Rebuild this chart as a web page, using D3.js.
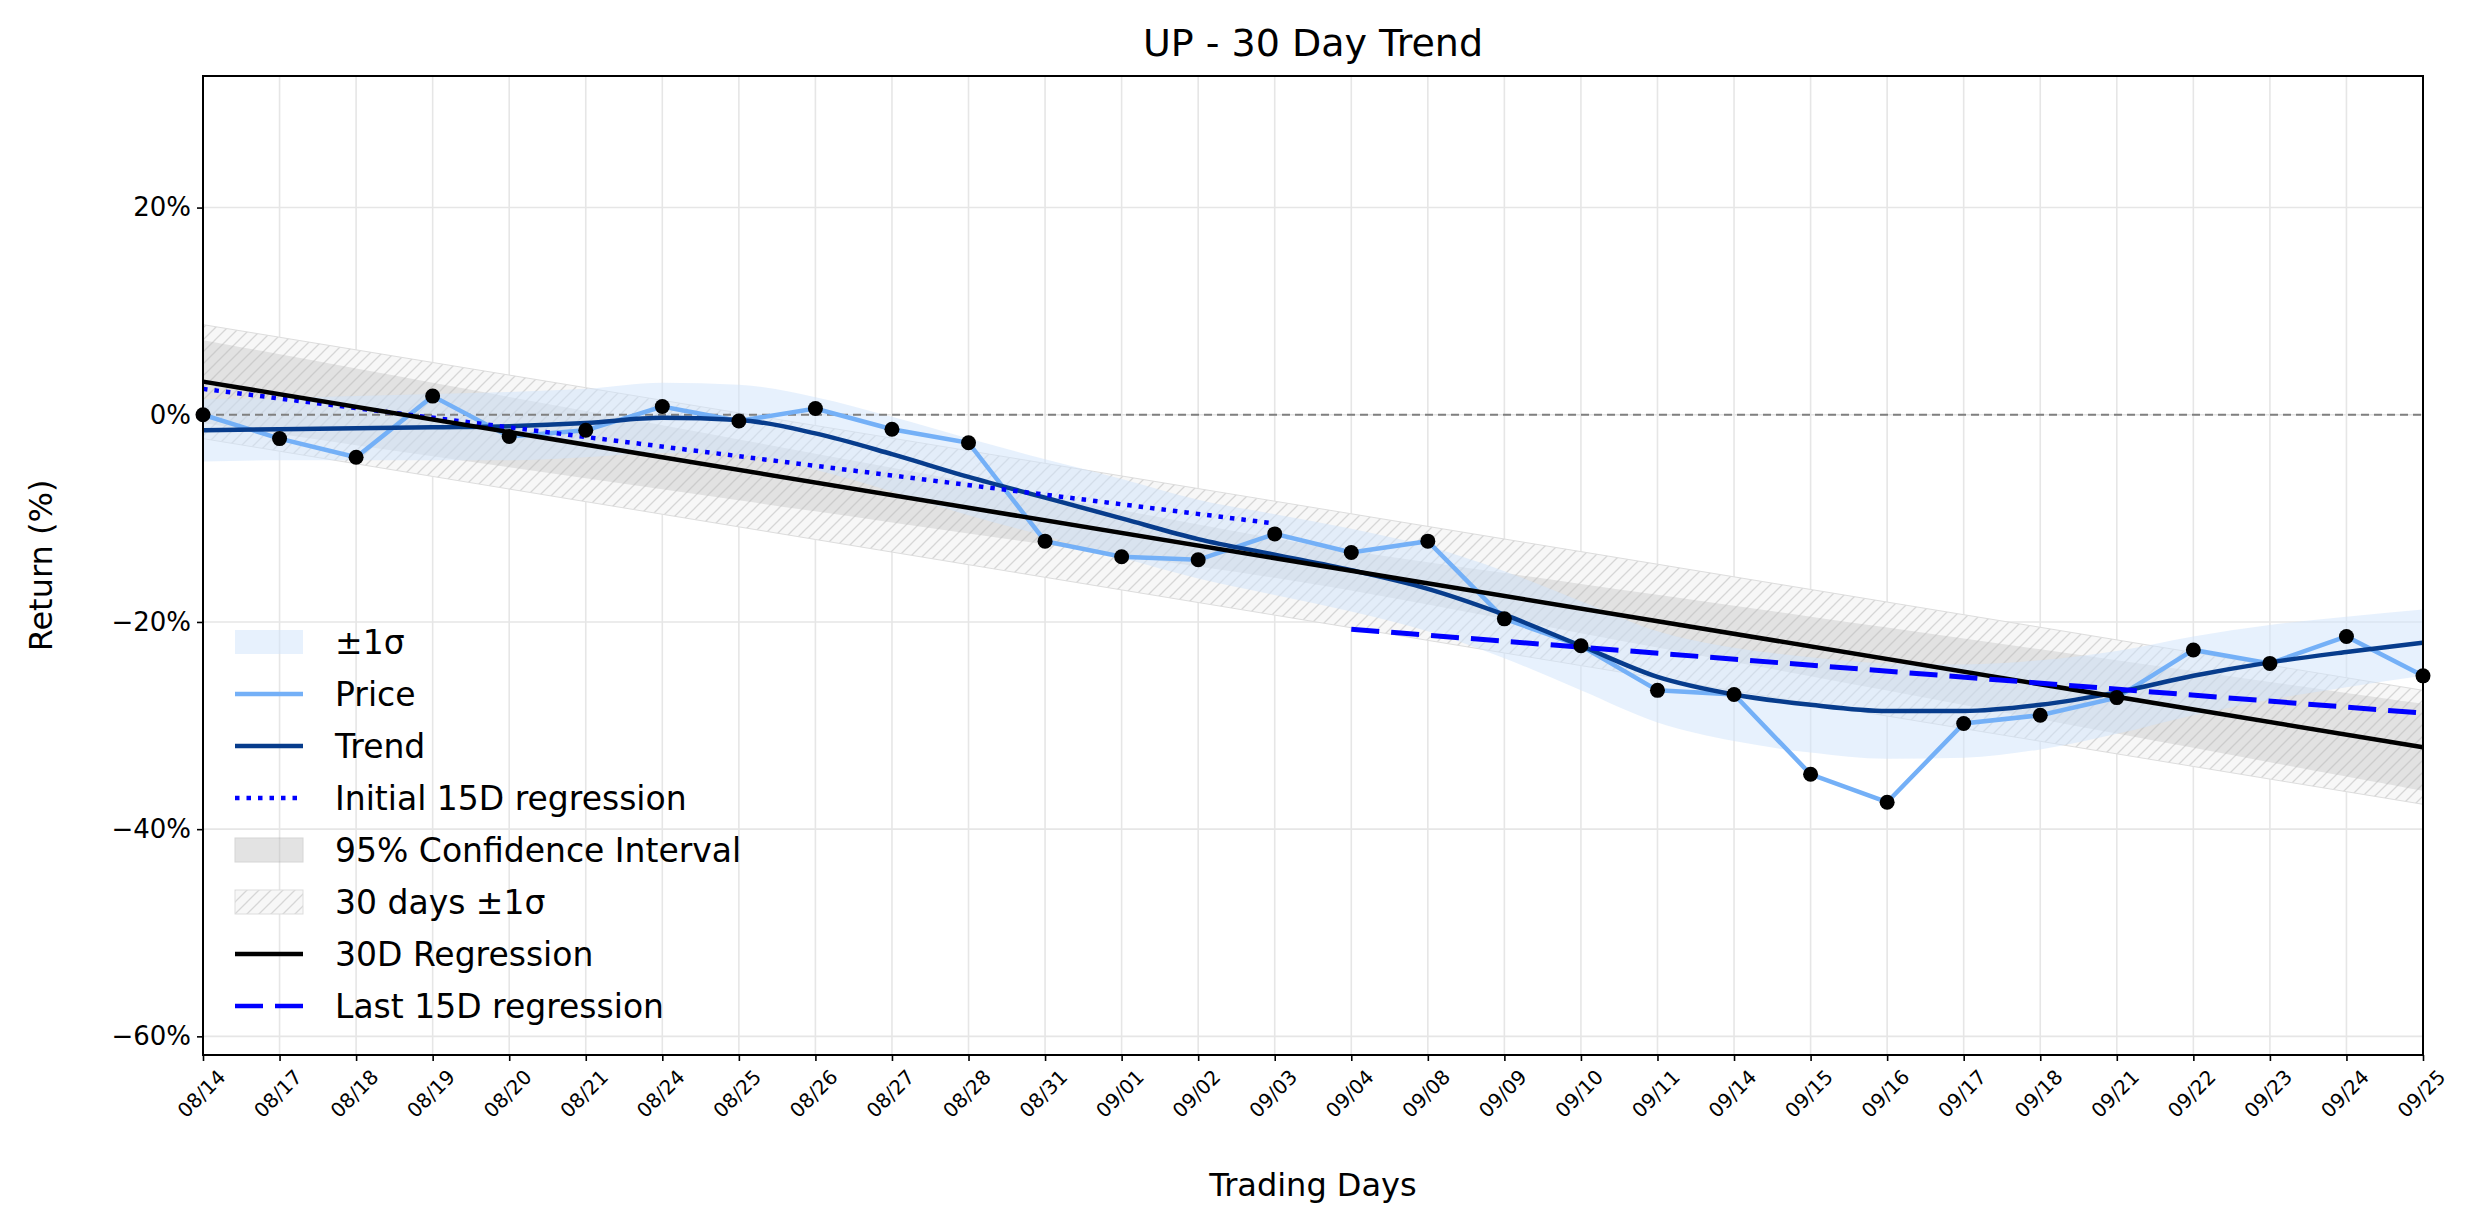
<!DOCTYPE html>
<html>
<head>
<meta charset="utf-8">
<script src="https://cdn.jsdelivr.net/npm/d3@7"></script>
<style>
  body { margin: 0; background: #fff; }
  text { font-family: "DejaVu Sans", sans-serif; }
</style>
</head>
<body>
<div id="chart"></div>
<script>
var days = ["08/14","08/17","08/18","08/19","08/20","08/21","08/24","08/25","08/26","08/27",
    "08/28","08/31","09/01","09/02","09/03","09/04","09/08","09/09","09/10","09/11",
    "09/14","09/15","09/16","09/17","09/18","09/21","09/22","09/23","09/24","09/25"];
var price = [0, -2.3, -4.1, 1.8, -2.1, -1.5, 0.8, -0.6, 0.6, -1.4,
    -2.7, -12.2, -13.7, -14.0, -11.5, -13.3, -12.2, -19.7, -22.3, -26.6,
    -27.0, -34.7, -37.4, -29.8, -29.0, -27.3, -22.7, -24.0, -21.4, -25.2];
var trend = [-1.5, -1.4, -1.3, -1.2, -1.1, -0.8, -0.3, -0.5, -1.8, -3.8,
    -6.0, -8.0, -10.0, -12.0, -13.5, -15.0, -16.8, -19.3, -22.3, -25.3,
    -27.0, -28.0, -28.6, -28.6, -28.0, -26.8, -25.2, -23.9, -22.9, -22.0];
var sigma = [3.0, 3.0, 3.1, 3.2, 3.3, 3.3, 3.4, 3.4, 3.5, 3.6,
    3.7, 3.7, 3.8, 3.8, 3.9, 4.0, 4.1, 4.2, 4.3, 4.4,
    4.5, 4.6, 4.6, 4.5, 4.3, 4.0, 3.8, 3.6, 3.4, 3.2];
var reg30 = [3.2, -32.1];          // 30D regression at first / last day
var ciHalf = [4.0, 1.8, 4.2];      // CI half width at start / middle / end
var band30 = 5.5;                  // 30 days ±1σ half width
var reg15first = [2.5, -10.5];     // 08/14 .. 09/03
var reg15last = [-20.7, -28.8];    // 09/04 .. 09/25
var yTicks = [20, 0, -20, -40, -60];

var W = 2474, H = 1224;
var margin = {top: 76, right: 51, bottom: 169, left: 203};
var w = W - margin.left - margin.right, h = H - margin.top - margin.bottom;

var root = d3.select("#chart").append("svg").attr("width", W).attr("height", H);
var defs = root.append("defs");
var pat = defs.append("pattern").attr("id", "hatch").attr("patternUnits", "userSpaceOnUse")
    .attr("width", 12).attr("height", 12);
pat.append("rect").attr("width", 12).attr("height", 12).attr("fill", "#f7f7f7");
pat.append("path").attr("d", "M-3,15 L15,-3 M-3,3 L3,-3 M9,15 L15,9")
    .attr("stroke", "#d6d6d6").attr("stroke-width", 1.3);

var svg = root.append("g").attr("transform", `translate(${margin.left},${margin.top})`);

var x = d3.scalePoint().domain(days).range([0, w]);
var y = d3.scaleLinear().domain([-61.8, 32.7]).range([h, 0]);
var n = days.length;

// grid
svg.append("g").selectAll("line").data(days).enter().append("line")
    .attr("x1", d => x(d)).attr("x2", d => x(d)).attr("y1", 0).attr("y2", h)
    .attr("stroke", "#e6e6e6").attr("stroke-width", 1.6);
svg.append("g").selectAll("line").data(yTicks).enter().append("line")
    .attr("x1", 0).attr("x2", w).attr("y1", d => y(d)).attr("y2", d => y(d))
    .attr("stroke", "#e6e6e6").attr("stroke-width", 1.6);

var regAt = i => reg30[0] + (reg30[1] - reg30[0]) * i / (n - 1);
var ciAt = i => {
    var t = i / (n - 1);
    return t < 0.5 ? ciHalf[0] + (ciHalf[1] - ciHalf[0]) * t * 2 : ciHalf[1] + (ciHalf[2] - ciHalf[1]) * (t - 0.5) * 2;
};
var idx = d3.range(n);

// 30 days ±1σ hatched band
svg.append("path").datum(idx)
    .attr("d", d3.area().x(i => x(days[i])).y0(i => y(regAt(i) - band30)).y1(i => y(regAt(i) + band30)))
    .attr("fill", "url(#hatch)").attr("stroke", "#ddd").attr("stroke-width", 1);
// CI
svg.append("path").datum(idx)
    .attr("d", d3.area().curve(d3.curveBasis).x(i => x(days[i])).y0(i => y(regAt(i) - ciAt(i))).y1(i => y(regAt(i) + ciAt(i))))
    .attr("fill", "#bbbbbb").attr("opacity", 0.35);
// ±1σ around trend
svg.append("path").datum(idx)
    .attr("d", d3.area().curve(d3.curveMonotoneX).x(i => x(days[i])).y0(i => y(trend[i] - sigma[i])).y1(i => y(trend[i] + sigma[i])))
    .attr("fill", "#cfe4fb").attr("opacity", 0.5);

// zero line
svg.append("line").attr("x1", 0).attr("x2", w).attr("y1", y(0)).attr("y2", y(0))
    .attr("stroke", "#808080").attr("stroke-width", 2).attr("stroke-dasharray", "8,5");

var line = d3.line().x(d => x(d[0])).y(d => y(d[1]));
svg.append("path").datum(days.map((d, i) => [d, price[i]])).attr("d", line)
    .attr("fill", "none").attr("stroke", "#74b0f7").attr("stroke-width", 4.5);
svg.append("path").datum(days.map((d, i) => [d, trend[i]])).attr("d", d3.line().curve(d3.curveMonotoneX).x(d => x(d[0])).y(d => y(d[1])))
    .attr("fill", "none").attr("stroke", "#073c8c").attr("stroke-width", 4.5);
svg.append("path").datum([[days[0], reg15first[0]], [days[14], reg15first[1]]]).attr("d", line)
    .attr("fill", "none").attr("stroke", "#0000ff").attr("stroke-width", 4.5).attr("stroke-dasharray", "4.5,7");
svg.append("path").datum([[days[0], reg30[0]], [days[n - 1], reg30[1]]]).attr("d", line)
    .attr("fill", "none").attr("stroke", "#000").attr("stroke-width", 4.5);
svg.append("path").datum([[days[15], reg15last[0]], [days[n - 1], reg15last[1]]]).attr("d", line)
    .attr("fill", "none").attr("stroke", "#0000ff").attr("stroke-width", 5).attr("stroke-dasharray", "28,12");

svg.append("g").selectAll("circle").data(price).enter().append("circle")
    .attr("cx", (d, i) => x(days[i])).attr("cy", d => y(d)).attr("r", 7.5).attr("fill", "#000");

// frame
svg.append("rect").attr("width", w).attr("height", h).attr("fill", "none").attr("stroke", "#000").attr("stroke-width", 2);

// axes
var yAxis = svg.append("g").call(d3.axisLeft(y).tickValues(yTicks).tickFormat(d => (d < 0 ? "\u2212" + (-d) : d) + "%").tickSize(6).tickPadding(6));
yAxis.select(".domain").remove();
yAxis.selectAll("text").attr("font-size", 26);
yAxis.selectAll("line").attr("stroke-width", 1.6);

var xAxis = svg.append("g").attr("transform", `translate(0,${h})`).call(d3.axisBottom(x).tickSize(6));
xAxis.select(".domain").remove();
xAxis.selectAll("line").attr("stroke-width", 1.6);
xAxis.selectAll("text").attr("font-size", 20).attr("text-anchor", "end")
    .attr("transform", "translate(14,14) rotate(-45)").attr("dy", "0.35em").attr("y", 6);

root.append("text").attr("x", margin.left + w / 2).attr("y", 56).attr("text-anchor", "middle")
    .attr("font-size", 38).text("UP - 30 Day Trend");
root.append("text").attr("x", margin.left + w / 2).attr("y", 1196).attr("text-anchor", "middle")
    .attr("font-size", 32).text("Trading Days");
root.append("text").attr("transform", `translate(52,${margin.top + h / 2}) rotate(-90)`).attr("text-anchor", "middle")
    .attr("font-size", 32).text("Return (%)");

// legend
var legendItems = [
    {label: "\u00b11\u03c3", type: "patch", fill: "#cfe4fb", op: 0.5},
    {label: "Price", type: "line", color: "#74b0f7"},
    {label: "Trend", type: "line", color: "#073c8c"},
    {label: "Initial 15D regression", type: "line", color: "#0000ff", dash: "4.5,7"},
    {label: "95% Confidence Interval", type: "patch", fill: "#bbbbbb", op: 0.4, stroke: "#999"},
    {label: "30 days \u00b11\u03c3", type: "patch", fill: "url(#hatch)", op: 1, stroke: "#ddd"},
    {label: "30D Regression", type: "line", color: "#000"},
    {label: "Last 15D regression", type: "line", color: "#0000ff", dash: "28,12"}
];
var lg = root.append("g").attr("transform", "translate(235,642)");
var items = lg.selectAll("g").data(legendItems).enter().append("g")
    .attr("transform", (d, i) => `translate(0,${i * 52})`);
items.filter(d => d.type === "patch").append("rect")
    .attr("x", 0).attr("y", -12).attr("width", 68).attr("height", 24)
    .attr("fill", d => d.fill).attr("opacity", d => d.op).attr("stroke", d => d.stroke || "none");
items.filter(d => d.type === "line").append("line")
    .attr("x1", 0).attr("x2", 68).attr("stroke", d => d.color).attr("stroke-width", 4.5)
    .attr("stroke-dasharray", d => d.dash || null);
items.append("text").attr("x", 100).attr("dy", "0.35em").attr("font-size", 33).text(d => d.label);
</script>
</body>
</html>
